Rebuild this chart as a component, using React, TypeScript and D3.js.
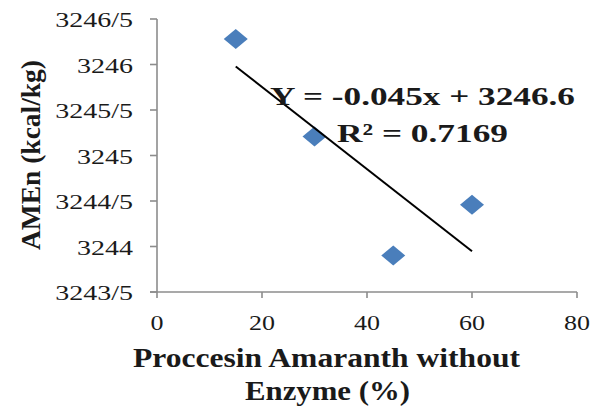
import React from 'react';
import * as d3 from 'd3';

// data
const xValues = [15, 30, 45, 60];
const yValues = [3246.28, 3245.21, 3243.9, 3244.46];
const xTicks = [0, 20, 40, 60, 80];
const yTicks = [3243.5, 3244, 3244.5, 3245, 3245.5, 3246, 3246.5];
const yTickLabels = ['3243/5', '3244', '3244/5', '3245', '3245/5', '3246', '3246/5'];
const equationText = 'Y = -0.045x + 3246.6';
const r2Text = 'R² = 0.7169';

const W = 604;
const H = 407;
const serif = '"Liberation Serif", "Times New Roman", serif';
const axisColor = '#8c8c8c';
const markerColor = '#4a7ebb';

function StretchText({ x, y, sx, size, anchor, bold, children }: any) {
  return (
    <g transform={`translate(${x},${y}) scale(${sx},1)`}>
      <text
        textAnchor={anchor}
        fontFamily={serif}
        fontSize={size}
        fontWeight={bold ? 'bold' : 'normal'}
        fill="#1a1a1a"
      >
        {children}
      </text>
    </g>
  );
}

export default function App() {
  // scales
  const x = d3.scaleLinear().domain([0, 80]).range([157, 577]);
  const y = d3.scaleLinear().domain([3243.5, 3246.5]).range([292, 19]);

  // linear trend (least squares)
  const mx = d3.mean(xValues) as number;
  const my = d3.mean(yValues) as number;
  const slope =
    d3.sum(xValues, (v, i) => (v - mx) * (yValues[i] - my)) /
    d3.sum(xValues, (v) => (v - mx) ** 2);
  const icpt = my - slope * mx;
  const x0 = d3.min(xValues) as number;
  const x1 = d3.max(xValues) as number;
  const trend = d3.line<number>()
    .x((d) => x(d))
    .y((d) => y(icpt + slope * d))([x0, x1]);

  const diamond = (cx: number, cy: number) =>
    `M${cx},${cy - 10} L${cx + 12},${cy} L${cx},${cy + 10} L${cx - 12},${cy} Z`;

  return (
    <div style={{ position: 'absolute', left: 0, top: 0 }}>
      <svg width={W} height={H} style={{ display: 'block', background: '#fff' }}>
        {/* y axis */}
        <line x1={x(0)} x2={x(0)} y1={y(3246.5)} y2={y(3243.5)} stroke={axisColor} strokeWidth={1.6} />
        {yTicks.map((t, i) => (
          <g key={t}>
            <line x1={x(0) - 7} x2={x(0)} y1={y(t)} y2={y(t)} stroke={axisColor} strokeWidth={1.6} />
            <StretchText x={133} y={y(t) + 8} sx={1.4} size={20} anchor="end">
              {yTickLabels[i]}
            </StretchText>
          </g>
        ))}

        {/* x axis */}
        <line x1={x(0) - 7} x2={x(80)} y1={y(3243.5)} y2={y(3243.5)} stroke={axisColor} strokeWidth={1.6} />
        {xTicks.map((t) => (
          <g key={t}>
            <line x1={x(t)} x2={x(t)} y1={y(3243.5)} y2={y(3243.5) + 6} stroke={axisColor} strokeWidth={1.6} />
            <StretchText x={x(t)} y={330} sx={1.3} size={20} anchor="middle">
              {t}
            </StretchText>
          </g>
        ))}

        {/* points */}
        {xValues.map((v, i) => (
          <path key={v} d={diamond(x(v), y(yValues[i]))} fill={markerColor} />
        ))}

        {/* trendline */}
        <path d={trend || ''} fill="none" stroke="#000" strokeWidth={2} />

        {/* equation */}
        <text x={270} y={105} fontFamily={serif} fontSize={26} fontWeight="bold" fill="#1a1a1a"
          textLength={305} lengthAdjust="spacingAndGlyphs">
          {equationText}
        </text>
        <text x={337} y={142} fontFamily={serif} fontSize={26} fontWeight="bold" fill="#1a1a1a"
          textLength={171} lengthAdjust="spacingAndGlyphs">
          {r2Text}
        </text>

        {/* axis titles */}
        <text x={133} y={367} fontFamily={serif} fontSize={27} fontWeight="bold" fill="#1a1a1a"
          textLength={387} lengthAdjust="spacingAndGlyphs">
          Proccesin Amaranth without
        </text>
        <text x={245} y={400} fontFamily={serif} fontSize={27} fontWeight="bold" fill="#1a1a1a"
          textLength={165} lengthAdjust="spacingAndGlyphs">
          Enzyme (%)
        </text>
        <text transform="translate(40,250) rotate(-90)" fontFamily={serif} fontSize={28} fontWeight="bold"
          fill="#1a1a1a" textLength={190} lengthAdjust="spacingAndGlyphs">
          AMEn (kcal/kg)
        </text>
      </svg>
    </div>
  );
}
